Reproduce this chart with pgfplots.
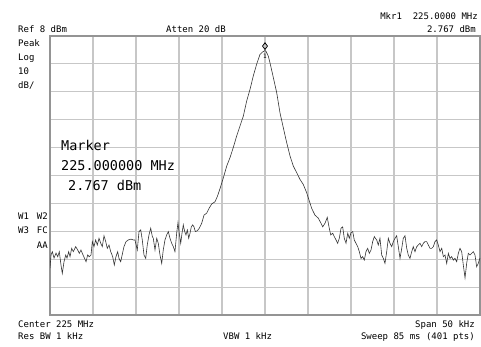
\documentclass[border=0pt]{standalone}
\usepackage{pgfplots}
\pgfplotsset{compat=1.18}
\usepackage{fontspec}
\setmainfont{DejaVu Sans Mono}
\newcommand{\sm}{\fontsize{9}{10}\selectfont}
\newcommand{\bg}{\fontsize{13.5}{15}\selectfont}

\begin{document}
\begin{tikzpicture}[x=1pt,y=1pt]
\useasboundingbox (0,0) rectangle (481,346);
\begin{axis}[at={(50pt,31pt)}, anchor=south west, scale only axis,
  width=430pt, height=279pt,
  xmin=-25, xmax=25, ymin=-92, ymax=8,
  xtick={-25,-20,...,25}, ytick={-92,-82,...,8},
  xticklabels={}, yticklabels={}, major tick length=0pt,
  grid=major, major grid style={line width=1.1pt, color=black!22},
  axis line style={line width=1.2pt, color=black!42}]
\addplot[line width=0.6pt, color=black!80] coordinates {
(-25.0,-75.2) (-24.88,-70.5) (-24.73,-69.3) (-24.53,-71.6) (-24.30,-69.8) (-24.10,-71.1)
(-23.92,-69.3) (-23.72,-74.1) (-23.57,-77.1) (-23.37,-72.9) (-23.17,-70.5) (-23.02,-71.6)
(-22.83,-69.3) (-22.67,-71.1) (-22.48,-68.1) (-22.29,-69.3) (-22.01,-67.5) (-21.78,-68.7)
(-21.59,-69.9) (-21.40,-68.7) (-21.20,-70.2) (-21.01,-71.5) (-20.81,-72.9) (-20.62,-70.5)
(-20.43,-71.1) (-20.23,-70.5) (-20.08,-65.7) (-19.88,-67.5) (-19.69,-65.1) (-19.50,-66.9)
(-19.30,-64.5) (-19.10,-66.3) (-18.92,-67.5) (-18.72,-63.6) (-18.52,-65.7) (-18.34,-68.1)
(-18.14,-66.9) (-17.94,-69.3) (-17.71,-71.1) (-17.52,-74.1) (-17.33,-71.1) (-17.13,-69.3)
(-16.98,-71.7) (-16.78,-72.9) (-16.59,-70.2) (-16.40,-67.5) (-16.16,-65.7) (-15.90,-65.1)
(-15.58,-64.8) (-15.31,-65.1) (-15.12,-65.1) (-14.85,-68.7) (-14.65,-62.1) (-14.45,-61.5)
(-14.27,-65.1) (-14.07,-70.5) (-13.87,-71.7) (-13.69,-66.9) (-13.49,-63.3) (-13.29,-60.9)
(-13.10,-63.9) (-12.99,-64.5) (-12.79,-68.7) (-12.59,-64.5) (-12.41,-66.3) (-12.21,-70.5)
(-12.01,-73.5) (-11.83,-68.7) (-11.63,-65.1) (-11.43,-63.3) (-11.24,-62.1) (-11.05,-64.5)
(-10.85,-66.3) (-10.66,-67.5) (-10.47,-69.3) (-10.27,-62.7) (-10.12,-58.9) (-9.97,-62.7)
(-9.80,-66.3) (-9.65,-62.7) (-9.50,-59.7) (-9.34,-62.1) (-9.19,-63.3) (-9.03,-61.5)
(-8.87,-64.5) (-8.72,-62.7) (-8.57,-60.4) (-8.41,-59.7) (-8.26,-60.4) (-8.10,-62.1)
(-7.87,-61.8) (-7.64,-60.9) (-7.36,-59.1) (-7.09,-56.2) (-6.78,-55.5) (-6.51,-53.8)
(-6.20,-52.2) (-5.81,-51.4) (-5.55,-49.6) (-5.23,-46.7) (-4.85,-42.9) (-4.45,-38.6)
(-4.07,-35.6) (-3.69,-32.0) (-3.29,-27.8) (-2.91,-24.3) (-2.52,-20.7) (-2.13,-15.3)
(-1.74,-11.1) (-1.36,-6.3) (-0.97,-2.1) (-0.58,1.4) (-0.27,2.3) (0,2.767)
(0.12,2.5) (0.38,0.8) (0.58,-1.6) (0.97,-6.9) (1.36,-12.3) (1.74,-19.5)
(2.13,-24.9) (2.52,-30.2) (2.91,-35.0) (3.29,-38.6) (3.69,-41.0) (4.07,-43.4)
(4.45,-45.2) (4.85,-48.2) (5.15,-51.1) (5.43,-53.8) (5.81,-56.2) (6.20,-57.3)
(6.51,-59.1) (6.71,-60.4) (6.98,-59.1) (7.24,-57.0) (7.44,-60.4) (7.64,-63.3)
(7.87,-62.7) (8.06,-63.9) (8.26,-65.1) (8.45,-66.3) (8.64,-64.5) (8.84,-60.9)
(9.03,-60.4) (9.22,-64.5) (9.42,-66.3) (9.62,-62.7) (9.80,-64.5) (10.00,-62.5)
(10.20,-62.1) (10.38,-65.1) (10.58,-66.3) (10.78,-67.5) (10.97,-69.3) (11.16,-71.7)
(11.36,-71.1) (11.55,-72.3) (11.74,-69.3) (11.94,-68.1) (12.13,-69.9) (12.33,-68.7)
(12.52,-65.7) (12.71,-63.9) (12.79,-64.3) (12.99,-65.1) (13.17,-66.9) (13.37,-64.5)
(13.57,-70.5) (13.76,-71.7) (13.95,-73.5) (14.15,-69.3) (14.34,-64.5) (14.53,-66.3)
(14.73,-67.5) (14.92,-65.7) (15.12,-64.5) (15.31,-63.6) (15.50,-67.5) (15.70,-71.7)
(15.90,-68.1) (16.08,-64.5) (16.28,-63.6) (16.48,-68.1) (16.66,-70.5) (16.86,-71.7)
(17.06,-69.3) (17.24,-67.5) (17.44,-69.3) (17.64,-67.5) (17.83,-66.9) (18.02,-66.3)
(18.22,-67.5) (18.41,-66.3) (18.60,-65.7) (18.80,-65.7) (18.99,-66.9) (19.19,-68.1)
(19.38,-68.1) (19.57,-67.5) (19.77,-65.7) (19.96,-65.1) (20.15,-66.9) (20.35,-69.3)
(20.55,-68.1) (20.74,-71.1) (20.93,-70.5) (21.13,-73.5) (21.32,-69.9) (21.51,-71.7)
(21.71,-71.1) (21.90,-72.3) (22.09,-71.7) (22.29,-72.9) (22.48,-69.9) (22.67,-68.1)
(22.87,-69.3) (23.06,-74.1) (23.26,-78.7) (23.45,-73.5) (23.64,-69.9) (23.84,-70.5)
(24.03,-69.9) (24.22,-69.3) (24.42,-70.5) (24.61,-74.7) (24.80,-73.5) (25.0,-71.6)
};
\addplot[only marks, mark=diamond, mark size=3.3pt, line width=0.8pt, color=black,
  mark options={yshift=4.5pt, fill=white}] coordinates {(0,2.767)};
\node[font=\fontsize{6}{6}\selectfont, inner sep=0pt] at (axis cs:0,2.767) [yshift=-5.5pt] {1};
\end{axis}
% header
\node[anchor=base east, inner sep=0pt, font=\sm] at (478,326.5) {Mkr1~~225.0000 MHz};
\node[anchor=base west, inner sep=0pt, font=\sm] at (18,313) {Ref 8 dBm};
\node[anchor=base west, inner sep=0pt, font=\sm] at (166,313) {Atten 20 dB};
\node[anchor=base east, inner sep=0pt, font=\sm] at (476,313) {2.767 dBm};
% left labels
\node[anchor=base west, inner sep=0pt, font=\sm] at (18,299.5) {Peak};
\node[anchor=base west, inner sep=0pt, font=\sm] at (18,285.5) {Log};
\node[anchor=base west, inner sep=0pt, font=\sm] at (18,271.5) {10};
\node[anchor=base west, inner sep=0pt, font=\sm] at (18,258) {dB/};
\node[anchor=base west, inner sep=0pt, font=\sm] at (18,126.7) {W1};
\node[anchor=base east, inner sep=0pt, font=\sm] at (48,126.7) {W2};
\node[anchor=base west, inner sep=0pt, font=\sm] at (18,112.7) {W3};
\node[anchor=base east, inner sep=0pt, font=\sm] at (48,112.7) {FC};
\node[anchor=base east, inner sep=0pt, font=\sm] at (48,98) {AA};
% marker readout
\node[anchor=base west, inner sep=0pt, font=\bg] at (61,196) {Marker};
\node[anchor=base west, inner sep=0pt, font=\bg] at (61,175.3) {225.000000 MHz};
\node[anchor=base west, inner sep=0pt, font=\bg] at (68,155.3) {2.767 dBm};
% footer
\node[anchor=base west, inner sep=0pt, font=\sm] at (18,18.7) {Center 225 MHz};
\node[anchor=base east, inner sep=0pt, font=\sm] at (475,18.7) {Span 50 kHz};
\node[anchor=base west, inner sep=0pt, font=\sm] at (18,6.5) {Res BW 1 kHz};
\node[anchor=base west, inner sep=0pt, font=\sm] at (223,6.5) {VBW 1 kHz};
\node[anchor=base east, inner sep=0pt, font=\sm] at (475,6.5) {Sweep 85 ms (401 pts)};
\end{tikzpicture}
\end{document}
